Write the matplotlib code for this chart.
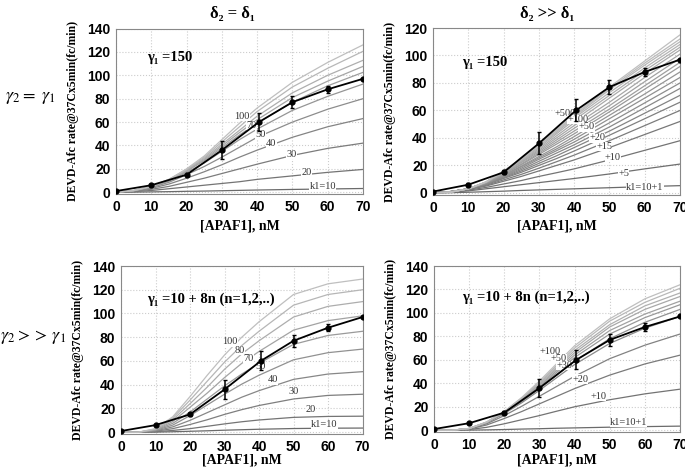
import numpy as np
import matplotlib
matplotlib.use("Agg")
import matplotlib.pyplot as plt

plt.rcParams['mathtext.fontset'] = 'stix'

# ---------------- data ----------------
x_grid = [0, 5, 10, 15, 20, 25, 30, 35, 40, 50, 60, 70]

exp_x = [0, 10, 20, 30, 40.5, 50, 60, 70]
exp_y = [1, 6, 15, 36, 60, 77, 88, 97]
exp_err = [0, 1, 1.5, 8, 8, 5, 3, 0]

# top-left: gamma2 = gamma1, delta2 = delta1 (k1 = 10 ... )
tl_curves = [
    [0, 0.1, 0.3, 0.5, 0.8, 1.0, 1.3, 1.6, 1.9, 2.4, 2.8, 3.2],
    [0, 0.5, 1.5, 3, 4.5, 6, 7.5, 9, 11, 14, 17, 19.5],
    [0, 0.8, 2.5, 5, 8.5, 12, 16, 20, 24, 31.5, 37.5, 42],
    [0, 1, 3.3, 7, 12, 17.5, 23.5, 30, 36, 47, 56, 63],
    [0, 1.2, 4, 8.5, 15, 22, 30, 38.5, 47, 60, 71, 80],
    [0, 1.3, 4.4, 9.5, 17, 25, 35, 45, 54, 70, 82, 92.5],
    [0, 1.3, 4.6, 10, 18, 27, 38, 49, 59, 77, 91, 102.5],
    [0, 1.4, 4.8, 10.3, 18.5, 28, 39.5, 51, 62, 81, 95, 107.6],
    [0, 1.4, 4.9, 10.5, 19, 29, 41, 53, 65, 85, 100, 112.8],
    [0, 1.5, 5, 11, 19.5, 30, 43, 56, 69, 90, 106, 120.5],
    [0, 1.5, 5, 11, 20, 31, 45, 59, 72, 94, 111, 126],
]
tl_labels = ["100", "70", "50", "40", "30", "20", "k1=10"]
tl_label_xy = [(35.8, 65), (38.4, 57), (41, 49), (44, 42), (49.7, 32), (54, 17), (58.6, 5)]

# top-right: gamma2 = gamma1, delta2 >> delta1
tr_curves = [
    [0, 0.2, 0.5, 0.9, 1.3, 1.8, 2.2, 2.6, 3, 3.8, 4.6, 5.3],
    [0, 0.5, 1.5, 3, 4.5, 6, 7.5, 9, 10.5, 13.8, 17.5, 21],
    [0, 0.7, 2, 4, 6.5, 9, 12, 14.7, 17.5, 24, 31, 38],
    [0, 0.8, 2.5, 5, 8.5, 12, 16, 20, 24, 33, 42.5, 52],
    [0, 1, 2.8, 5.5, 9.5, 13.5, 18, 22.7, 27.5, 38, 49, 60],
    [0, 1, 3, 6, 10.5, 15, 20, 25, 30.5, 42, 54, 66],
    [0, 1, 3, 6.3, 11, 16, 21.5, 27, 33, 45, 58, 71],
    [0, 1, 3, 6.5, 11.5, 17, 23, 29, 35, 48, 62, 76],
    [0, 1, 3, 6.8, 12, 18, 24.5, 30.7, 37, 51, 65.5, 80],
    [0, 1, 3, 7, 12.5, 19, 25.5, 32, 39, 54, 69, 84],
    [0, 1, 3, 7.2, 13, 19.5, 26.5, 33.5, 41, 56.5, 72, 88],
    [0, 1, 3, 7.4, 13.5, 20.5, 28, 35.5, 43, 59, 75.5, 92],
    [0, 0.9, 3, 7.5, 14, 21, 29, 37, 45, 61, 78, 95],
    [0, 0.8, 3, 7.6, 14.3, 22, 30, 38.5, 47, 63.5, 81, 98],
    [0, 0.8, 3, 7.7, 14.6, 22.5, 31, 40, 49, 66, 84, 101],
    [0, 0.7, 3, 7.8, 15, 23, 32, 41.5, 51, 69, 87, 104],
    [0, 0.7, 3, 7.8, 15.2, 23.5, 33, 43, 53, 71, 89, 106],
    [0, 0.6, 3, 7.9, 15.5, 24, 34, 44, 54.5, 73, 91, 108],
    [0, 0.6, 3, 8, 15.7, 24.5, 34.5, 45, 55.5, 75, 93, 110],
    [0, 0.5, 3, 8, 15.8, 24.7, 34.8, 45.5, 56.5, 76, 94.5, 112],
    [0, 0.5, 3, 8, 16, 25, 35, 46, 57, 77, 96, 115],
]
tr_labels = ["+500", "+100", "+50", "+20", "+15", "+10", "+5", "k1=10+1"]
tr_label_xy = [(37.5, 58), (41, 53.5), (43.5, 48), (46.5, 40), (48.5, 34), (51, 26), (54, 14.5), (60, 3.6)]

# bottom-left: gamma2 >> gamma1, delta2 = delta1
bl_curves = [
    [0, 0, 0.1, 0.4, 0.8, 1.2, 1.7, 2.1, 2.5, 3.1, 3.4, 3.5],
    [0, 0, 0.4, 1.5, 3, 5, 7, 8.8, 10.3, 12.5, 13.3, 13.5],
    [0, 0, 0.8, 3, 6.5, 10.5, 15, 19, 22.5, 28, 31, 32],
    [0, 0, 1.1, 4.5, 10, 16.5, 23, 29.5, 35, 44.5, 49, 51],
    [0, 0, 1.5, 6, 14, 23, 32, 40.5, 48, 61, 67, 70],
    [0, 0, 1.8, 7.5, 17, 28, 39, 49, 58, 74, 81.5, 85],
    [0, 0, 2.1, 9, 21, 33, 46, 58, 68, 86, 94, 98],
    [0, 0, 2.4, 10.5, 24, 38, 53, 66, 77, 97, 106, 110],
    [0, 0, 2.7, 12, 27, 43, 59, 73, 85, 107, 116, 120],
    [0, 0, 3, 13, 30, 48, 65, 80, 93, 116, 125, 129],
]
bl_labels = ["100", "80", "70", "50", "40", "30", "20", "k1=10"]
bl_label_xy = [(31.6, 76), (34.5, 68.5), (37, 62), (40.3, 55), (44, 44), (50, 34), (55, 19.5), (59, 6.7)]

# bottom-right: gamma2 >> gamma1, delta2 >> delta1
br_curves = [
    [0, 0, 0.1, 0.3, 0.6, 1, 1.3, 1.7, 2, 2.6, 3.1, 3.5],
    [0, 0, 0.6, 2.5, 5.5, 9, 12.5, 16.3, 20, 26, 31, 35],
    [0, 0, 1, 4.5, 10, 16, 22.5, 29, 35.5, 47, 56.5, 64],
    [0, 0, 1.2, 5.5, 12.5, 20.5, 29, 37.5, 46, 61, 72.5, 82],
    [0, 0, 1.4, 6.3, 14.2, 23.5, 34, 45, 56, 74, 87, 97],
    [0, 0, 1.4, 6.5, 14.7, 24.5, 35.5, 47, 59, 78, 92, 103],
    [0, 0, 1.5, 6.6, 15, 25.5, 37, 49.5, 62, 82, 96, 107],
    [0, 0, 1.5, 6.7, 15.2, 26, 38, 51, 64, 85, 99, 110],
    [0, 0, 1.5, 6.8, 15.5, 26.5, 39, 52.5, 66, 88, 103, 114],
    [0, 0, 1.5, 7, 15.8, 27, 40, 54, 68, 90, 106, 117],
    [0, 0, 1.5, 7, 16, 27.5, 41, 55.5, 70, 93, 109, 121],
    [0, 0, 1.5, 7, 16, 28, 42, 57, 72, 95, 112, 124],
]
br_labels = ["+100", "+50", "+30", "+20", "+10", "k1=10+1"]
br_label_xy = [(33, 67), (35.5, 61), (37, 55), (41.6, 43.6), (46.7, 29), (55.3, 6.8)]

gamma_texts = ["γ₁ =150", "γ₁ =150", "γ₁ =10 + 8n (n=1,2,..)", "γ₁ =10 + 8n (n=1,2,..)"]
gamma_xy = [(8.8, 115), (8.2, 95), (7.5, 112), (8, 113.6)]

x_ticks = [0, 10, 20, 30, 40, 50, 60, 70]

# ---------------- figure ----------------
W, H = 685, 468
fig = plt.figure(figsize=(W / 100, H / 100), dpi=100)

def ax_at(l, r, t, b):
    return fig.add_axes([l / W, 1 - b / H, (r - l) / W, (b - t) / H])

SERIF = ['Liberation Serif', 'DejaVu Serif']
SANS = ['Liberation Sans', 'DejaVu Sans']

panels = [
    (ax_at(116, 363, 28.5, 194), tl_curves, tl_labels, tl_label_xy, 140, 226),
    (ax_at(433, 680, 28, 195), tr_curves, tr_labels, tr_label_xy, 120, 226),
    (ax_at(121, 362.5, 266, 434), bl_curves, bl_labels, bl_label_xy, 140, 460),
    (ax_at(434, 680, 266, 432), br_curves, br_labels, br_label_xy, 140, 460),
]

for i, (ax, curves, labels, lxy, ymax, xlab_y) in enumerate(panels):
    n = len(curves)
    for j, c in enumerate(curves):
        shade = 0.42 + 0.33 * j / max(n - 1, 1)
        ax.plot(x_grid, c, color=(shade, shade, shade), lw=0.9, zorder=2)
    ax.plot(exp_x, exp_y, color='black', lw=1.3, zorder=4)
    ax.errorbar(exp_x, exp_y, yerr=exp_err, fmt='o', color='black', ms=3.5,
                elinewidth=1.1, capsize=1.5, capthick=1, zorder=5)
    for lab, (lx, ly) in zip(labels, lxy):
        ax.text(lx, ly, lab, fontsize=7.5, family=SERIF, color='#333333',
                ha='center', va='center', zorder=3,
                bbox=dict(facecolor='white', edgecolor='none', pad=0.1))
    ax.text(gamma_xy[i][0], gamma_xy[i][1], gamma_texts[i], fontsize=10.5,
            family=SERIF, fontweight='bold', ha='left', va='center')
    ax.set_xlim(0, 70)
    ax.set_ylim(-1.5, ymax)
    ax.set_xticks(x_ticks)
    ax.set_yticks(np.arange(0, ymax + 1, 20))
    ax.grid(True, color='#cccccc', linestyle=':', lw=0.8)
    ax.set_axisbelow(True)
    for s in ax.spines.values():
        s.set_color('#888888')
        s.set_linewidth(0.8)
    ax.tick_params(length=0, pad=4, labelsize=10)
    for t in ax.get_xticklabels() + ax.get_yticklabels():
        t.set_family(SANS)
        t.set_fontweight('bold')
    bb = ax.get_position()
    fig.text((bb.x0 + bb.x1) / 2, 1 - xlab_y / H, '[APAF1], nM', family=SERIF,
             fontweight='bold', fontsize=10, ha='center', va='center')
    ax.set_ylabel('DEVD-Afc rate@37Cx5min(fc/min)', family=SERIF, fontweight='bold',
                  fontsize=8.5, labelpad=6)

fig.text(232 / W, 1 - 14 / H, 'δ₂ = δ₁', family=SERIF, fontweight='bold', fontsize=12,
         ha='center', va='center')
fig.text(547 / W, 1 - 14 / H, 'δ₂ >> δ₁', family=SERIF, fontweight='bold', fontsize=12,
         ha='center', va='center')
fig.text(30 / W, 1 - 97 / H, r'$\gamma_2{=}\ \gamma_1$', fontsize=13, ha='center', va='center')
fig.text(33 / W, 1 - 337 / H, r'$\gamma_2{>>}\,\gamma_1$', fontsize=13, ha='center', va='center')

fig.savefig('out.png', dpi=100)
